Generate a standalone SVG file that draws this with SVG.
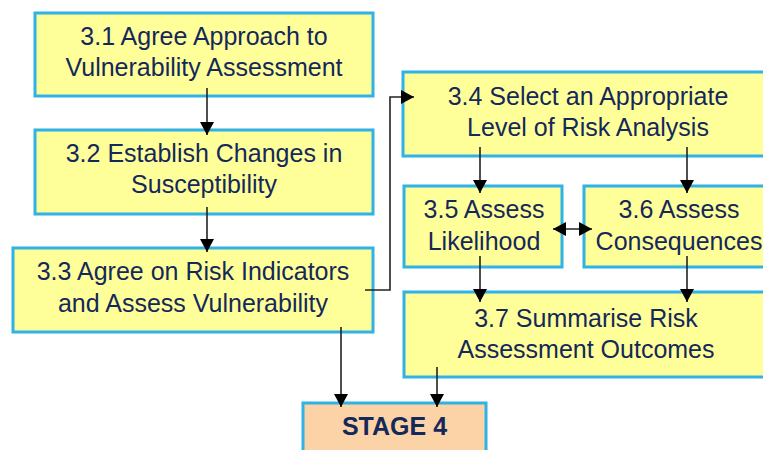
<svg xmlns="http://www.w3.org/2000/svg" width="763" height="450" viewBox="0 0 763 450">
<style>
.box{fill:#FFFF99;stroke:#2FB2E6;stroke-width:3}
.stage{fill:#FCD3A6;stroke:#2FB2E6;stroke-width:3}
.t{font-family:"Liberation Sans",Arial,sans-serif;font-size:25px;fill:#14285A;text-anchor:middle}
.b{font-family:"Liberation Sans",Arial,sans-serif;font-size:25px;font-weight:bold;fill:#14285A;text-anchor:middle}
.c{fill:none;stroke:#222;stroke-width:1.6}
</style>
<defs>
<marker id="ah" markerUnits="userSpaceOnUse" markerWidth="14" markerHeight="14" viewBox="0 0 14 14" refX="13" refY="7" orient="auto">
<path d="M0,0 L13,7 L0,14 Z" fill="#000"/>
</marker>
<marker id="as" markerUnits="userSpaceOnUse" markerWidth="14" markerHeight="14" viewBox="0 0 14 14" refX="1" refY="7" orient="auto">
<path d="M14,0 L1,7 L14,14 Z" fill="#000"/>
</marker>
</defs>
<rect width="763" height="450" fill="#fff"/>
<g id="n31"><rect class="box" x="35" y="13" width="338" height="83"/>
<text class="t" x="204" y="45">3.1 Agree Approach to</text><text class="t" x="204" y="76">Vulnerability Assessment</text></g>
<g id="n32"><rect class="box" x="35" y="130" width="338" height="84"/>
<text class="t" x="204" y="162">3.2 Establish Changes in</text><text class="t" x="204" y="193">Susceptibility</text></g>
<g id="n33"><rect class="box" x="13" y="248" width="360" height="84"/>
<text class="t" x="193" y="280">3.3 Agree on Risk Indicators</text><text class="t" x="193" y="312">and Assess Vulnerability</text></g>
<g id="n34"><rect class="box" x="403" y="72" width="372" height="84"/>
<text class="t" x="588" y="105">3.4 Select an Appropriate</text><text class="t" x="588" y="136">Level of Risk Analysis</text></g>
<g id="n35"><rect class="box" x="404" y="186" width="158" height="81"/>
<text class="t" x="484" y="218">3.5 Assess</text><text class="t" x="484" y="250">Likelihood</text></g>
<g id="n36"><rect class="box" x="584" y="186" width="191" height="81"/>
<text class="t" x="679" y="218">3.6 Assess</text><text class="t" x="679" y="250">Consequences</text></g>
<g id="n37"><rect class="box" x="404" y="292" width="371" height="85"/>
<text class="t" x="586" y="327">3.7 Summarise Risk</text><text class="t" x="586" y="358">Assessment Outcomes</text></g>
<g id="stage4"><rect class="stage" x="303" y="403" width="183" height="60"/>
<text class="b" x="394.5" y="435">STAGE 4</text></g>
<g id="connectors">
<path class="c" d="M207,88 V135" marker-end="url(#ah)"/>
<path class="c" d="M207,207 V252" marker-end="url(#ah)"/>
<path class="c" d="M365,290 H390 V97 H414" marker-end="url(#ah)"/>
<path class="c" d="M480,147 V193" marker-end="url(#ah)"/>
<path class="c" d="M687,147 V193" marker-end="url(#ah)"/>
<path class="c" d="M553,229 H592" marker-start="url(#as)" marker-end="url(#ah)"/>
<path class="c" d="M480,256 V302" marker-end="url(#ah)"/>
<path class="c" d="M687,256 V302" marker-end="url(#ah)"/>
<path class="c" d="M341,327 V407" marker-end="url(#ah)"/>
<path class="c" d="M437,367 V407" marker-end="url(#ah)"/>
</g>
</svg>
